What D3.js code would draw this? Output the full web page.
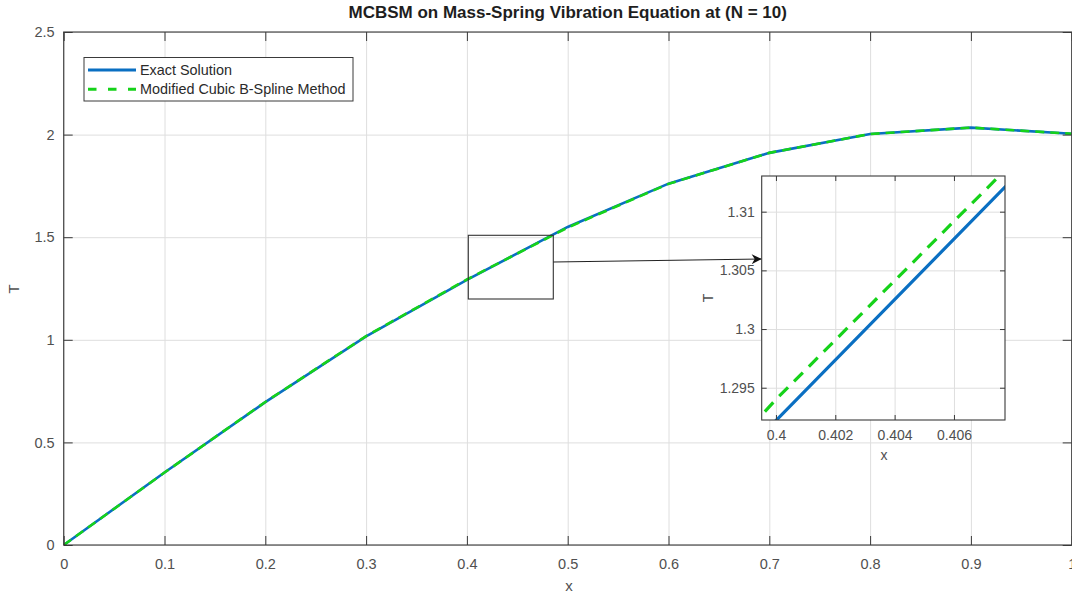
<!DOCTYPE html>
<html>
<head>
<meta charset="utf-8">
<script src="https://cdn.jsdelivr.net/npm/d3@7"></script>
<style>
  body { margin: 0; background: #fff; }
  svg { display: block; font-family: "Liberation Sans", Arial, sans-serif; }
</style>
</head>
<body>
<div id="chart"></div>
<script>
// values
const xValues = [0, 0.1, 0.2, 0.3, 0.4, 0.5, 0.6, 0.7, 0.8, 0.9, 1];
const exactT = [0, 0.353, 0.696, 1.017, 1.2922, 1.550, 1.761, 1.911, 2.003, 2.034, 2.004];
const mcbsmT = [0, 0.353, 0.697, 1.018, 1.2940, 1.547, 1.760, 1.911, 2.003, 2.034, 2.004];
const xTicks = [0, 0.1, 0.2, 0.3, 0.4, 0.5, 0.6, 0.7, 0.8, 0.9, 1];
const yTicks = [0, 0.5, 1, 1.5, 2, 2.5];
const insetXTicks = [0.4, 0.402, 0.404, 0.406];
const insetYTicks = [1.295, 1.3, 1.305, 1.31];
const seriesNames = ["Exact Solution", "Modified Cubic B-Spline Method"];

const blue = "#0a6fc2";
const green = "#16d21a";
const axisColor = "#3a3a3a";
const textColor = "#505050";
const gridColor = "#dedede";

const svgWidth = 1072, svgHeight = 594;
const plot = { left: 63.7, right: 1071.7, top: 32, bottom: 545 };
const inset = { left: 761.7, right: 1005, top: 176, bottom: 420 };

const svg = d3.select("#chart").append("svg")
    .attr("width", svgWidth)
    .attr("height", svgHeight);

const defs = svg.append("defs");
defs.append("clipPath").attr("id", "clipMain").append("rect")
    .attr("x", plot.left).attr("y", plot.top)
    .attr("width", plot.right - plot.left).attr("height", plot.bottom - plot.top);
defs.append("clipPath").attr("id", "clipInset").append("rect")
    .attr("x", inset.left).attr("y", inset.top)
    .attr("width", inset.right - inset.left).attr("height", inset.bottom - inset.top);
defs.append("marker")
    .attr("id", "arrow")
    .attr("viewBox", "0 0 10 10")
    .attr("refX", 10).attr("refY", 5)
    .attr("markerWidth", 14).attr("markerHeight", 10)
    .attr("markerUnits", "userSpaceOnUse")
    .attr("orient", "auto")
    .append("path").attr("d", "M0,0 L10,5 L0,10 L3,5 Z").attr("fill", "#111");

const points = xValues.map((x, i) => ({ x: x, exact: exactT[i], mcbsm: mcbsmT[i] }));

// draws one set of axes (grid, curves, ticks, frame)
function drawAxes(g, box, xDomain, yDomain, xt, yt, opts) {
    const x = d3.scaleLinear().domain(xDomain).range([box.left, box.right]);
    const y = d3.scaleLinear().domain(yDomain).range([box.bottom, box.top]);
    const w = box.right - box.left, h = box.bottom - box.top;

    g.append("rect")
        .attr("x", box.left).attr("y", box.top)
        .attr("width", w).attr("height", h)
        .attr("fill", "#fff");

    // grid
    g.append("g")
        .attr("transform", "translate(0," + box.bottom + ")")
        .call(d3.axisBottom(x).tickValues(xt).tickSize(-h).tickFormat(""))
        .call(a => a.select(".domain").remove())
        .selectAll("line").attr("stroke", gridColor);
    g.append("g")
        .attr("transform", "translate(" + box.left + ",0)")
        .call(d3.axisLeft(y).tickValues(yt).tickSize(-w).tickFormat(""))
        .call(a => a.select(".domain").remove())
        .selectAll("line").attr("stroke", gridColor);

    // curves
    const curves = g.append("g").attr("clip-path", "url(#" + opts.clip + ")");
    curves.append("path")
        .datum(points)
        .attr("fill", "none")
        .attr("stroke", blue)
        .attr("stroke-width", opts.lineWidth)
        .attr("d", d3.line().x(d => x(d.x)).y(d => y(d.exact)));
    curves.append("path")
        .datum(points)
        .attr("fill", "none")
        .attr("stroke", green)
        .attr("stroke-width", opts.lineWidth)
        .attr("stroke-dasharray", opts.dash)
        .attr("d", d3.line().x(d => x(d.x)).y(d => y(d.mcbsm)));

    // ticks on all four sides, labels on bottom and left
    const fmt = d => String(+d.toFixed(4));
    const axes = [
        { ax: d3.axisBottom(x).tickValues(xt).tickFormat(fmt), t: "translate(0," + box.bottom + ")" },
        { ax: d3.axisLeft(y).tickValues(yt).tickFormat(fmt), t: "translate(" + box.left + ",0)" },
        { ax: d3.axisTop(x).tickValues(xt).tickFormat(""), t: "translate(0," + box.top + ")" },
        { ax: d3.axisRight(y).tickValues(yt).tickFormat(""), t: "translate(" + box.right + ",0)" }
    ];
    axes.forEach((a, i) => {
        const pad = i === 0 ? opts.xPad : opts.yPad;
        const ag = g.append("g")
            .attr("transform", a.t)
            .call(a.ax.tickSizeInner(-opts.tick).tickSizeOuter(0).tickPadding(pad));
        ag.select(".domain").remove();
        ag.selectAll("line").attr("stroke", axisColor);
        ag.selectAll("text")
            .attr("fill", textColor)
            .style("font-size", opts.font + "px");
    });

    g.append("rect")
        .attr("x", box.left).attr("y", box.top)
        .attr("width", w).attr("height", h)
        .attr("fill", "none")
        .attr("stroke", axisColor)
        .attr("stroke-width", 1.1);

    return { x: x, y: y };
}

// main axes
const main = svg.append("g");
drawAxes(main, plot, [0, 1], [0, 2.5], xTicks, yTicks,
    { clip: "clipMain", lineWidth: 2.6, dash: "9,6", tick: 9, xPad: 13.5, yPad: 9, font: 14.5 });

// title and axis labels
svg.append("text")
    .attr("x", (plot.left + plot.right) / 2)
    .attr("y", 18)
    .attr("text-anchor", "middle")
    .attr("fill", "#1e1e1e")
    .style("font-size", "17px")
    .style("font-weight", "bold")
    .text("MCBSM on Mass-Spring Vibration Equation at (N = 10)");
svg.append("text")
    .attr("x", 569).attr("y", 591)
    .attr("text-anchor", "middle")
    .attr("fill", textColor)
    .style("font-size", "15px")
    .text("x");
svg.append("text")
    .attr("transform", "translate(19,289) rotate(-90)")
    .attr("text-anchor", "middle")
    .attr("fill", textColor)
    .style("font-size", "15px")
    .text("T");

// legend
const legend = svg.append("g");
legend.append("rect")
    .attr("x", 84).attr("y", 57.5)
    .attr("width", 269).attr("height", 43.5)
    .attr("fill", "#fff")
    .attr("stroke", axisColor)
    .attr("stroke-width", 1);
seriesNames.forEach((name, i) => {
    const ly = 70 + i * 19.3;
    legend.append("line")
        .attr("x1", 88).attr("x2", 136)
        .attr("y1", ly).attr("y2", ly)
        .attr("stroke", i === 0 ? blue : green)
        .attr("stroke-width", 3)
        .attr("stroke-dasharray", i === 0 ? null : "8.5,11.5");
    legend.append("text")
        .attr("x", 140).attr("y", ly + 5)
        .attr("fill", "#2a2a2a")
        .style("font-size", "14.4px")
        .text(name);
});

// zoom box and arrow
svg.append("rect")
    .attr("x", 468.3).attr("y", 235.3)
    .attr("width", 85).attr("height", 63.7)
    .attr("fill", "none")
    .attr("stroke", "#333")
    .attr("stroke-width", 1.1);
svg.append("line")
    .attr("x1", 553.3).attr("y1", 262)
    .attr("x2", 761.7).attr("y2", 259)
    .attr("stroke", "#222")
    .attr("stroke-width", 1.1)
    .attr("marker-end", "url(#arrow)");

// inset axes
const insetG = svg.append("g");
drawAxes(insetG, inset, [0.39952, 0.40772], [1.29225, 1.31304], insetXTicks, insetYTicks,
    { clip: "clipInset", lineWidth: 3.2, dash: "12.5,8.5", tick: 5, xPad: 10, yPad: 7, font: 14 });
svg.append("text")
    .attr("x", 884).attr("y", 460)
    .attr("text-anchor", "middle")
    .attr("fill", textColor)
    .style("font-size", "14px")
    .text("x");
svg.append("text")
    .attr("transform", "translate(713,298) rotate(-90)")
    .attr("text-anchor", "middle")
    .attr("fill", textColor)
    .style("font-size", "14px")
    .text("T");
</script>
</body>
</html>
